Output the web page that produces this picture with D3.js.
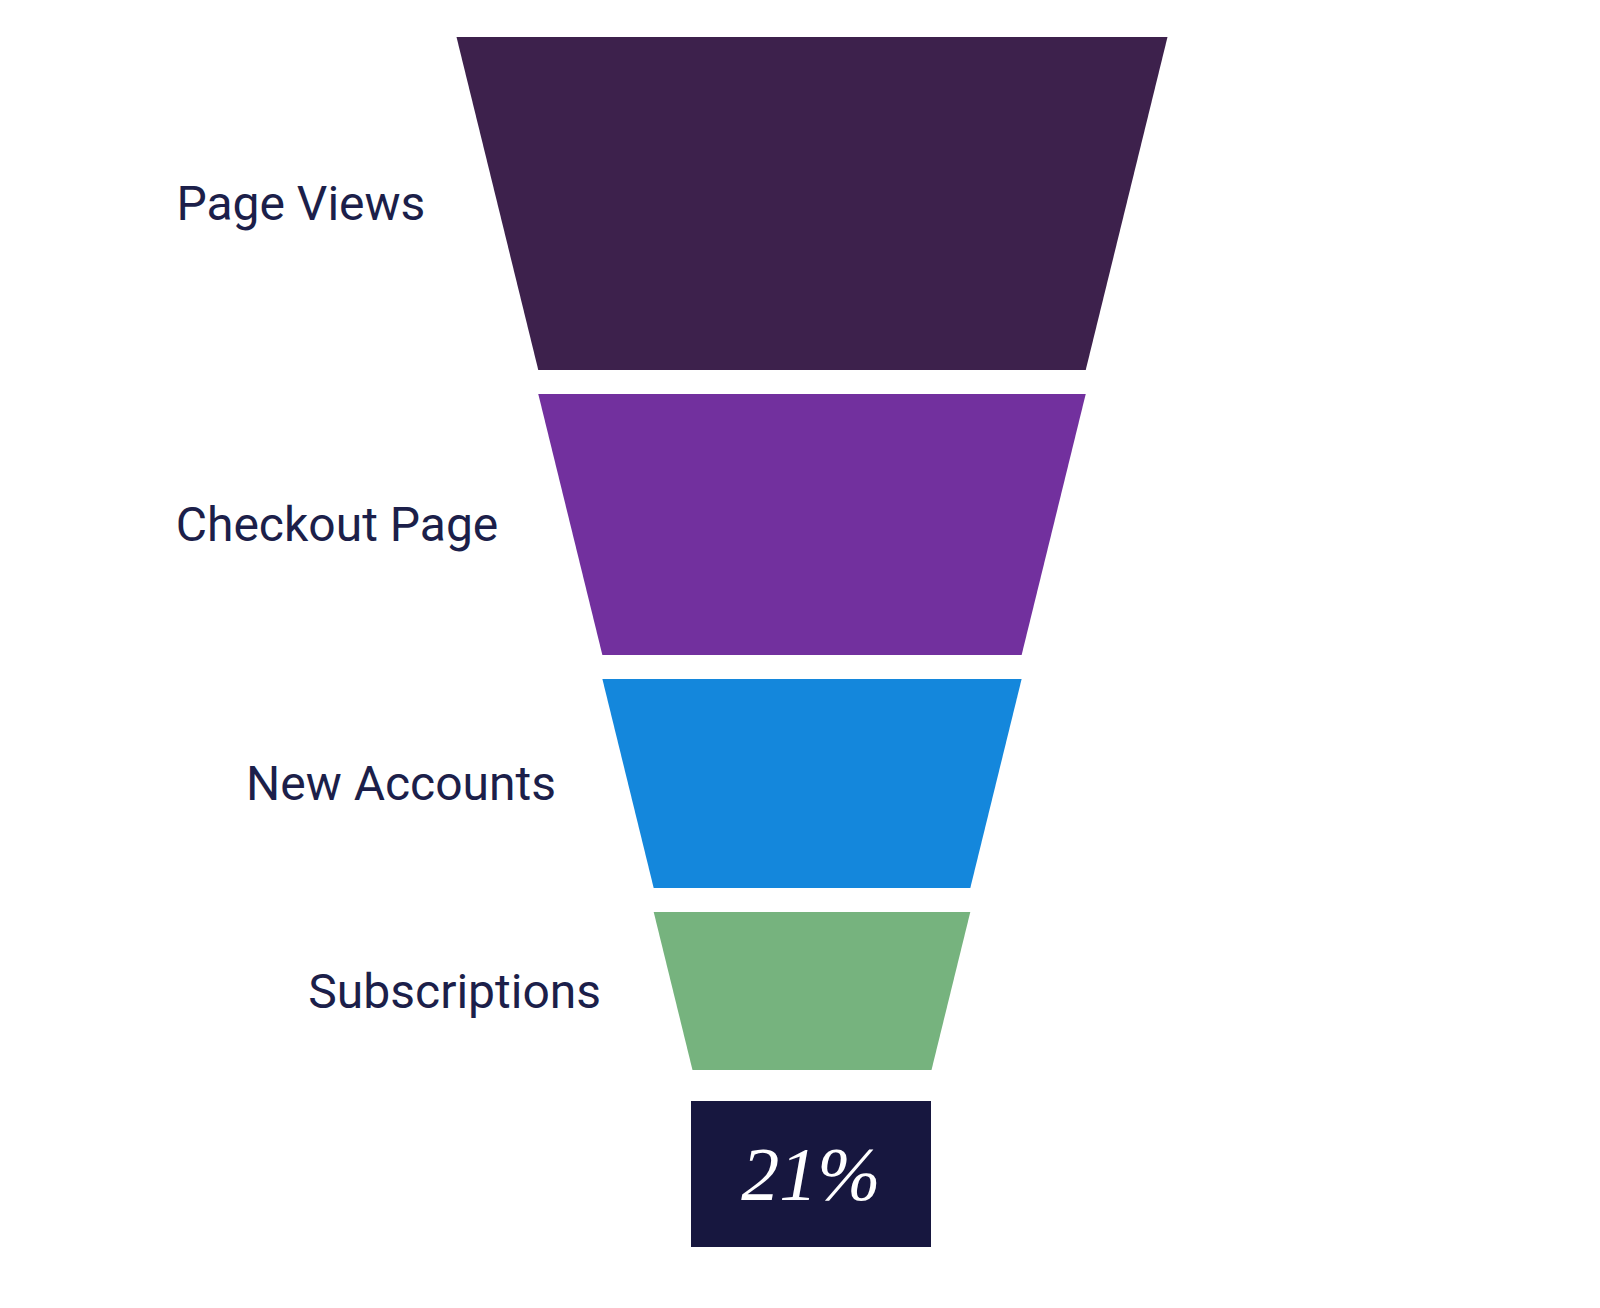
<!DOCTYPE html>
<html><head><meta charset="utf-8">
<script src="https://cdn.jsdelivr.net/npm/d3@7"></script>
<style>body{margin:0;background:#fff}</style>
</head><body>
<svg id="c" width="1600" height="1308"></svg>
<script>
const stages = ["Page Views","Checkout Page","New Accounts","Subscriptions"];
const values = [333, 261, 209, 158];
const colors = ["#3d214c","#72309e","#1487dc","#76b37e"];
const conversion = "21%";

const svg = d3.select("#c");
const cx = 812, topY = 37, gap = 24;
const total = d3.sum(values);
const hScale = d3.scaleLinear().domain([0,total]).range([0,961]);
const wScale = d3.scaleLinear().domain([0,total]).range([355.5,119.5]);

let cum = 0, y = topY;
stages.forEach((s,i)=>{
  const h = hScale(values[i]);
  const w0 = wScale(cum), w1 = wScale(cum+values[i]);
  svg.append("path")
    .attr("d",`M${cx-w0},${y}L${cx+w0},${y}L${cx+w1},${y+h}L${cx-w1},${y+h}Z`)
    .attr("fill",colors[i]);
  const midW = (w0+w1)/2;
  svg.append("text").attr("x",cx-midW-72).attr("y",y+h/2)
    .attr("text-anchor","end").attr("dominant-baseline","central")
    .attr("font-family","Roboto, sans-serif").attr("font-size",48)
    .attr("fill","#1c1f4a").text(s);
  cum += values[i];
  y += h + gap;
});
const by = 1101;
svg.append("rect").attr("x",691).attr("y",by).attr("width",240).attr("height",146).attr("fill","#17173f");
svg.append("text").attr("x",811).attr("y",by+73).attr("text-anchor","middle")
  .attr("dominant-baseline","central").attr("font-family","'Liberation Serif', serif")
  .attr("font-style","italic").attr("font-size",76).attr("fill","#fff").text(conversion);
</script>
</body></html>
